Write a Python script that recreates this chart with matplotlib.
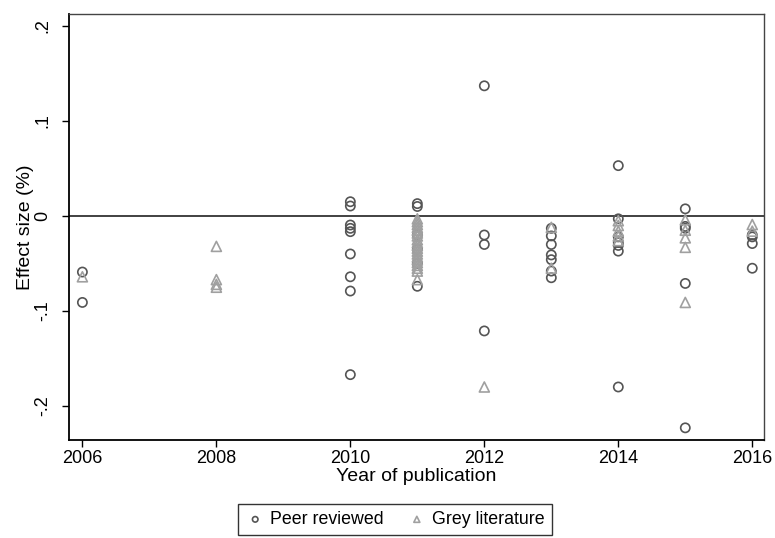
import numpy as np
import matplotlib.pyplot as plt

plt.rcParams['font.family'] = ['Liberation Sans', 'DejaVu Sans']

# Peer reviewed studies (year, effect size)
peer_year = [2006, 2006,
             2010, 2010, 2010, 2010, 2010, 2010, 2010, 2010, 2010,
             2011, 2011, 2011, 2011, 2011, 2011,
             2012, 2012, 2012, 2012,
             2013, 2013, 2013, 2013, 2013, 2013, 2013,
             2014, 2014, 2014, 2014, 2014, 2014, 2014,
             2015, 2015, 2015, 2015, 2015,
             2016, 2016, 2016, 2016]
peer_eff = [-0.059, -0.091,
            0.015, 0.0105, -0.0095, -0.013, -0.0165, -0.040, -0.064, -0.079, -0.167,
            0.013, 0.010, -0.020, -0.035, -0.050, -0.074,
            0.137, -0.020, -0.030, -0.121,
            -0.013, -0.021, -0.030, -0.041, -0.046, -0.058, -0.065,
            0.053, -0.003, -0.022, -0.028, -0.031, -0.037, -0.180,
            0.0075, -0.011, -0.013, -0.071, -0.223,
            -0.020, -0.022, -0.029, -0.055]

# Grey literature (year, effect size)
grey_year = [2006,
             2008, 2008, 2008, 2008,
             2011, 2011, 2011, 2011, 2011, 2011, 2011, 2011, 2011, 2011,
             2011, 2011, 2011, 2011, 2011, 2011, 2011, 2011, 2011, 2011,
             2012,
             2013, 2013,
             2014, 2014, 2014, 2014, 2014,
             2015, 2015, 2015, 2015, 2015,
             2016, 2016]
grey_eff = [-0.064,
            -0.032, -0.067, -0.072, -0.075,
            -0.003, -0.006, -0.009, -0.012, -0.015, -0.018, -0.021, -0.025, -0.028, -0.031,
            -0.034, -0.037, -0.040, -0.043, -0.046, -0.049, -0.052, -0.055, -0.058, -0.067,
            -0.180,
            -0.012, -0.055,
            -0.005, -0.010, -0.016, -0.021, -0.026,
            -0.004, -0.015, -0.023, -0.033, -0.091,
            -0.009, -0.016]

xticks = [2006, 2008, 2010, 2012, 2014, 2016]
yticks = [-0.2, -0.1, 0, 0.1, 0.2]
ytick_labels = ['-.2', '-.1', '0', '.1', '.2']

fig = plt.figure(figsize=(7.75, 5.38), dpi=100)
ax = fig.add_axes([69/775, 1-440/538, (764-69)/775, (440-14)/538])

ax.axhline(0, color='#333333', lw=1.3, zorder=1)

ax.scatter(peer_year, peer_eff, s=44, facecolors='none', edgecolors='#555555',
           linewidths=1.2, marker='o', label='Peer reviewed', zorder=2)
ax.scatter(grey_year, grey_eff, s=52, facecolors='none', edgecolors='#a0a0a0',
           linewidths=1.2, marker='^', label='Grey literature', zorder=3)

ax.set_xlim(2005.80, 2016.175)
ax.set_ylim(-0.2358, 0.2126)
ax.set_xticks(xticks)
ax.set_yticks(yticks)
ax.set_yticklabels(ytick_labels, rotation=90, va='center')
ax.tick_params(labelsize=13, length=5, width=1, color='black')
ax.tick_params(axis='x', pad=2)
ax.tick_params(axis='y', pad=8)

for side in ['top', 'right']:
    ax.spines[side].set_color('#444444')
    ax.spines[side].set_linewidth(1)
for side in ['left', 'bottom']:
    ax.spines[side].set_color('black')
    ax.spines[side].set_linewidth(1.3)

ax.set_xlabel('Year of publication', fontsize=14, labelpad=1)
ax.set_ylabel('Effect size (%)', fontsize=14, labelpad=0)

leg = fig.legend(loc='upper center', bbox_to_anchor=(395/775, 1-495/538), ncol=2,
                 fontsize=12.8, frameon=True, fancybox=False, edgecolor='black',
                 markerscale=0.6, handletextpad=0.3, columnspacing=1.3,
                 borderpad=0.4, handlelength=1.1)
leg.get_frame().set_linewidth(1)

plt.savefig('out.png', dpi=100)
